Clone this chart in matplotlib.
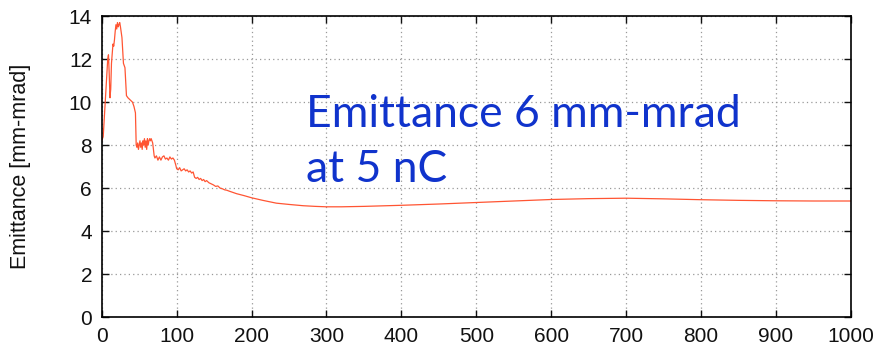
import matplotlib
matplotlib.use("Agg")
import matplotlib.pyplot as plt

# distance (x) and emittance (mm-mrad)
z = [0, 2, 4, 6, 8, 9, 10, 11, 12, 13, 15, 16, 17, 18, 19, 20, 21, 22, 23, 24, 25, 27,
     29, 30, 31, 33, 35, 38, 41, 43, 45, 46, 47, 48, 49, 50, 51, 52, 53, 54, 55, 56, 57,
     58, 59, 60, 61, 62, 63, 64, 65, 66, 67, 68, 70, 71, 73, 75, 77, 79, 81, 83, 85, 87,
     89, 91, 93, 95, 97, 99, 100, 102, 104, 106, 108, 110, 112, 114, 116, 118, 120, 122,
     124, 126, 128, 130, 132, 134, 136, 138, 140, 143, 146, 149, 152, 155, 158, 161, 164,
     167, 170, 175, 180, 190, 200, 215, 233, 250, 269, 285, 300, 320, 350, 400, 450, 500,
     550, 600, 650, 700, 750, 800, 850, 900, 950, 1000]
emit = [8.2, 8.4, 9.6, 10.8, 12.0, 12.2, 11.3, 10.2, 10.6, 11.8, 12.7, 12.6, 12.9, 13.3,
        13.6, 13.4, 13.7, 13.5, 13.6, 13.7, 13.5, 13.0, 11.8, 11.7, 11.6, 10.3, 10.2, 10.1,
        10.0, 9.8, 9.5, 8.0, 7.9, 8.1, 7.8, 8.0, 8.2, 7.9, 8.1, 7.8, 8.2, 8.0, 8.3, 7.9, 8.2,
        7.8, 8.3, 8.0, 8.2, 8.3, 8.2, 8.3, 8.2, 8.1, 7.5, 7.4, 7.5, 7.3, 7.45, 7.3, 7.45,
        7.5, 7.35, 7.4, 7.3, 7.45, 7.35, 7.4, 7.3, 7.05, 6.9, 6.85, 6.95, 6.8, 6.85, 6.9,
        6.8, 6.85, 6.75, 6.8, 6.7, 6.75, 6.5, 6.45, 6.5, 6.4, 6.45, 6.35, 6.4, 6.3, 6.35,
        6.25, 6.2, 6.15, 6.08, 6.1, 6.0, 5.97, 5.92, 5.9, 5.86, 5.8, 5.74, 5.65, 5.55,
        5.43, 5.3, 5.24, 5.18, 5.15, 5.13, 5.13, 5.15, 5.2, 5.26, 5.33, 5.4, 5.47, 5.51,
        5.53, 5.5, 5.46, 5.43, 5.41, 5.4, 5.4]

xticks = [0, 100, 200, 300, 400, 500, 600, 700, 800, 900, 1000]
yticks = [0, 2, 4, 6, 8, 10, 12, 14]
ylabel = "Emittance [mm-mrad]"
note_lines = ["Emittance 6 mm-mrad", "at 5 nC"]

plt.rcParams['font.family'] = ['Liberation Sans', 'DejaVu Sans']
fig = plt.figure(figsize=(8.8, 3.5), dpi=100)
ax = fig.add_axes([0.1156, 0.094, 0.8514, 0.86])
ax.plot(z, emit, color='#ff5533', lw=0.9)
ax.set_xlim(0, 1000)
ax.set_ylim(0, 14)
ax.set_xticks(xticks)
ax.set_yticks(yticks)
ax.tick_params(direction='in', top=True, right=True, length=5, width=1,
               labelsize=15, colors='#111111', pad=7)
ax.grid(True, color='#999999', linestyle=(0, (1, 2.5)), linewidth=0.9)
for s in ax.spines.values():
    s.set_linewidth(1.2)
ax.set_ylabel(ylabel, fontsize=15.5, color='#111111')
ax.yaxis.set_label_coords(-0.094, 0.5)
for txt, yb in zip(note_lines, [0.632, 0.448]):
    ax.text(0.272, yb, txt, transform=ax.transAxes, color='#1033cc',
            fontsize=32, family=['Lato', 'DejaVu Sans'], va='baseline', ha='left')
fig.savefig('out.png', dpi=100)
